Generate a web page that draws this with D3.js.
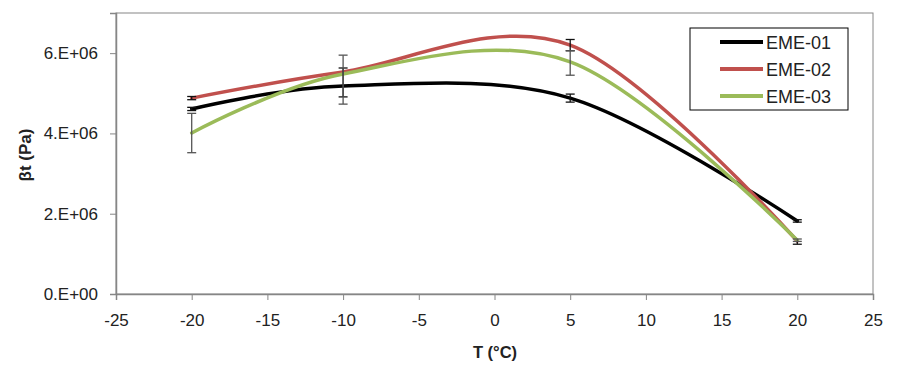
<html>
<head>
<meta charset="utf-8">
<title>beta_t vs T</title>
<style>
  body { margin: 0; background: #fff; }
  .axis path, .axis line { stroke: #868686; }
</style>
</head>
<body>
<svg id="viz" width="900" height="372"></svg>
<script src="https://d3js.org/d3.v7.min.js"></script>
<script>

// temperatures (°C)
var temps = [-20, -10, 5, 20];

// series values (Pa)
var eme01 = [4.61e6, 5.18e6, 4.88e6, 1.82e6];
var eme02 = [4.88e6, 5.53e6, 6.20e6, 1.32e6];
var eme03 = [4.01e6, 5.48e6, 5.78e6, 1.34e6];

// error bars (plus / minus)
var eme01Plus  = [0.04e6, 0.45e6, 0.10e6, 0.03e6];
var eme01Minus = [0.04e6, 0.27e6, 0.10e6, 0.03e6];
var eme02Plus  = [0.04e6, 0.00e6, 0.14e6, 0.00e6];
var eme02Minus = [0.04e6, 0.00e6, 0.14e6, 0.08e6];
var eme03Plus  = [0.49e6, 0.47e6, 0.28e6, 0.03e6];
var eme03Minus = [0.49e6, 0.75e6, 0.33e6, 0.03e6];

var seriesNames = ["EME-01", "EME-02", "EME-03"];
var seriesColors = ["#000000", "#c0504d", "#9bbb59"];
var errColors = ["#111111", "#111111", "#555555"];

var xTicks = [-25, -20, -15, -10, -5, 0, 5, 10, 15, 20, 25];
var yTicks = [0, 2e6, 4e6, 6e6];
var yTickLabels = ["0.E+00", "2.E+06", "4.E+06", "6.E+06"];

var series = [
    {name: seriesNames[0], values: eme01, plus: eme01Plus, minus: eme01Minus, color: seriesColors[0], ecolor: errColors[0]},
    {name: seriesNames[1], values: eme02, plus: eme02Plus, minus: eme02Minus, color: seriesColors[1], ecolor: errColors[1]},
    {name: seriesNames[2], values: eme03, plus: eme03Plus, minus: eme03Minus, color: seriesColors[2], ecolor: errColors[2]}
];

var svg = d3.select("#viz");

var x = d3.scaleLinear().domain([-25, 25]).range([116, 873]),
    y = d3.scaleLinear().domain([0, 7e6]).range([294, 13]);

// plot frame (top / right)
svg.append("rect")
    .attr("x", x(-25)).attr("y", y(7e6))
    .attr("width", x(25) - x(-25)).attr("height", y(0) - y(7e6))
    .attr("fill", "none").attr("stroke", "#868686").attr("stroke-width", 1);

var xAxis = svg.append("g").attr("class", "axis")
    .attr("transform", "translate(0," + y(0) + ")")
    .call(d3.axisBottom(x).tickValues(xTicks).tickSizeOuter(0).tickSize(6).tickPadding(14)
        .tickFormat(function(d) { return String(d); }));

var yAxis = svg.append("g").attr("class", "axis")
    .attr("transform", "translate(" + x(-25) + ",0)")
    .call(d3.axisLeft(y).tickValues(yTicks).tickSizeOuter(0).tickSize(6).tickPadding(12)
        .tickFormat(function(d, i) { return yTickLabels[i]; }));

svg.selectAll(".axis path").attr("stroke-width", 1.5);
svg.selectAll(".axis .tick text")
    .attr("font-family", "Liberation Sans, Arial, sans-serif")
    .attr("font-size", 17)
    .attr("fill", "#222");

// axis titles
svg.append("text")
    .attr("x", 495).attr("y", 358)
    .attr("text-anchor", "middle")
    .style("font-family", "Liberation Sans, Arial, sans-serif")
    .style("font-size", "16.5px").style("font-weight", "bold").style("fill", "#222")
    .text("T (°C)");

svg.append("text")
    .attr("transform", "translate(31,155) rotate(-90)")
    .attr("text-anchor", "middle")
    .style("font-family", "Liberation Sans, Arial, sans-serif")
    .style("font-size", "17px").style("font-weight", "bold").style("fill", "#222")
    .text("βt (Pa)");

// smoothed lines (Excel-like)
var line = d3.line()
    .x(function(d) { return x(d[0]); })
    .y(function(d) { return y(d[1]); })
    .curve(d3.curveCardinal.tension(0));

series.forEach(function(s) {
    svg.append("path")
        .datum(temps.map(function(t, i) { return [t, s.values[i]]; }))
        .attr("d", line)
        .attr("fill", "none")
        .attr("stroke", s.color)
        .attr("stroke-width", 3.5)
        .attr("stroke-linecap", "round");
});

// error bars
series.forEach(function(s) {
    var g = svg.append("g");
    temps.forEach(function(t, i) {
        var cx = x(t),
            hi = y(s.values[i] + s.plus[i]),
            lo = y(s.values[i] - s.minus[i]);
        g.append("line").attr("x1", cx).attr("x2", cx).attr("y1", hi).attr("y2", lo)
            .attr("stroke", s.ecolor).attr("stroke-width", 1.3);
        if (s.plus[i] > 0)
            g.append("line").attr("x1", cx - 4.5).attr("x2", cx + 4.5).attr("y1", hi).attr("y2", hi)
                .attr("stroke", s.ecolor).attr("stroke-width", 1.3);
        if (s.minus[i] > 0)
            g.append("line").attr("x1", cx - 4.5).attr("x2", cx + 4.5).attr("y1", lo).attr("y2", lo)
                .attr("stroke", s.ecolor).attr("stroke-width", 1.3);
    });
});

// legend
var legend = svg.append("g").attr("transform", "translate(690,28)");
legend.append("rect")
    .attr("width", 158).attr("height", 82)
    .attr("fill", "#fff").attr("stroke", "#000").attr("stroke-width", 1);

series.forEach(function(s, i) {
    var ly = 14 + i * 27;
    legend.append("line")
        .attr("x1", 30).attr("x2", 73).attr("y1", ly).attr("y2", ly)
        .attr("stroke", s.color).attr("stroke-width", 4);
    legend.append("text")
        .attr("x", 76).attr("y", ly + 6.5)
        .style("font-family", "Liberation Sans, Arial, sans-serif")
        .style("font-size", "18px").style("fill", "#222")
        .text(s.name);
});

</script>
</body>
</html>
